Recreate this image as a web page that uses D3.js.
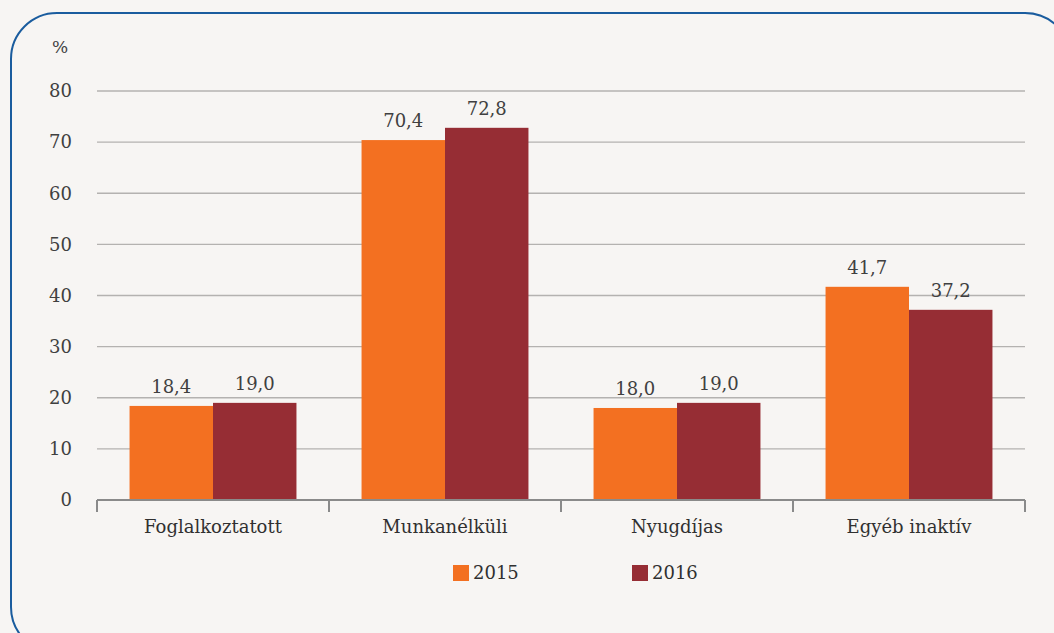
<!DOCTYPE html>
<meta charset="utf-8">
<script src="https://d3js.org/d3.v7.min.js"></script>
<style>
  body { margin: 0; background: #f7f5f3; }
  svg { display: block; }
  text { font-family: "DejaVu Serif", serif; }
</style>
<div id="my_dataviz"></div>
<script>

// data
var categories = ["Foglalkoztatott", "Munkanélküli", "Nyugdíjas", "Egyéb inaktív"];
var years = ["2015", "2016"];
var values2015 = [18.4, 70.4, 18.0, 41.7];
var values2016 = [19.0, 72.8, 19.0, 37.2];
var yTicks = [0, 10, 20, 30, 40, 50, 60, 70, 80];
var colors = ["#f37021", "#962d34"];

var W = 1054, H = 633;
var margin = {top: 91, right: 29, bottom: 133, left: 97},
    width = W - margin.left - margin.right,
    height = H - margin.top - margin.bottom;

var root = d3.select("#my_dataviz")
  .append("svg")
    .attr("width", W)
    .attr("height", H);

// rounded frame
root.append("rect")
  .attr("x", 11).attr("y", 13)
  .attr("width", 1060).attr("height", 640)
  .attr("rx", 46).attr("ry", 46)
  .attr("fill", "#f7f5f3")
  .attr("stroke", "#1a5c9e")
  .attr("stroke-width", 2);

var svg = root.append("g")
  .attr("transform", "translate(" + margin.left + "," + margin.top + ")");

var x = d3.scaleBand()
  .domain(categories)
  .range([0, width])
  .paddingInner(0)
  .paddingOuter(0);

var x1 = d3.scaleBand()
  .domain(years)
  .range([0, x.bandwidth()])
  .paddingOuter(0.39)
  .paddingInner(0);

var y = d3.scaleLinear()
  .domain([0, 80])
  .range([height, 0]);

// gridlines
svg.append("g")
  .selectAll("line")
  .data(yTicks.filter(function(d) { return d > 0; }))
  .enter().append("line")
    .attr("x1", 0).attr("x2", width)
    .attr("y1", function(d) { return y(d); })
    .attr("y2", function(d) { return y(d); })
    .attr("stroke", "#b4b2b0")
    .attr("stroke-width", 1.3);

// Y tick labels
svg.append("g")
  .selectAll("text")
  .data(yTicks)
  .enter().append("text")
    .attr("x", -25)
    .attr("y", function(d) { return y(d); })
    .attr("dy", "0.35em")
    .attr("text-anchor", "end")
    .style("font-size", "18px")
    .style("fill", "#404040")
    .text(function(d) { return d; });

svg.append("text")
  .attr("x", -37).attr("y", -44)
  .attr("dy", "0.35em")
  .attr("text-anchor", "middle")
  .style("font-size", "17px")
  .style("fill", "#404040")
  .text("%");

// bars
var rows = categories.map(function(c, i) {
  return {cat: c, vals: [values2015[i], values2016[i]]};
});

var groups = svg.selectAll(".grp")
  .data(rows)
  .enter().append("g")
    .attr("class", "grp")
    .attr("transform", function(d) { return "translate(" + x(d.cat) + ",0)"; });

groups.selectAll("rect")
  .data(function(d) { return d.vals.map(function(v, j) { return {year: years[j], v: v, j: j}; }); })
  .enter().append("rect")
    .attr("x", function(d) { return x1(d.year); })
    .attr("y", function(d) { return y(d.v); })
    .attr("width", x1.bandwidth())
    .attr("height", function(d) { return height - y(d.v); })
    .attr("fill", function(d) { return colors[d.j]; });

groups.selectAll(".lbl")
  .data(function(d) { return d.vals.map(function(v, j) { return {year: years[j], v: v}; }); })
  .enter().append("text")
    .attr("class", "lbl")
    .attr("x", function(d) { return x1(d.year) + x1.bandwidth() / 2; })
    .attr("y", function(d) { return y(d.v) - 13; })
    .attr("text-anchor", "middle")
    .style("font-size", "18px")
    .style("fill", "#404040")
    .text(function(d) { return d3.format(".1f")(d.v).replace(".", ","); });

// X axis
var xAxis = svg.append("g")
  .attr("transform", "translate(0," + height + ")");
xAxis.append("line")
  .attr("x1", 0).attr("x2", width)
  .attr("stroke", "#8a8a8a").attr("stroke-width", 2);
xAxis.selectAll(".tick")
  .data(d3.range(categories.length + 1))
  .enter().append("line")
    .attr("x1", function(i) { return i * x.bandwidth(); })
    .attr("x2", function(i) { return i * x.bandwidth(); })
    .attr("y1", 0).attr("y2", 12)
    .attr("stroke", "#8a8a8a").attr("stroke-width", 2);
xAxis.selectAll("text")
  .data(categories)
  .enter().append("text")
    .attr("x", function(d) { return x(d) + x.bandwidth() / 2; })
    .attr("y", 33)
    .attr("text-anchor", "middle")
    .style("font-size", "18px")
    .style("fill", "#303030")
    .text(function(d) { return d; });

// legend
var legendX = [453, 632];
var legend = root.selectAll(".leg")
  .data(years)
  .enter().append("g")
    .attr("transform", function(d, i) { return "translate(" + legendX[i] + ",565)"; });
legend.append("rect")
  .attr("width", 16).attr("height", 16)
  .attr("fill", function(d, i) { return colors[i]; });
legend.append("text")
  .attr("x", 20).attr("y", 8)
  .attr("dy", "0.35em")
  .style("font-size", "18px")
  .style("fill", "#303030")
  .text(function(d) { return d; });

</script>
